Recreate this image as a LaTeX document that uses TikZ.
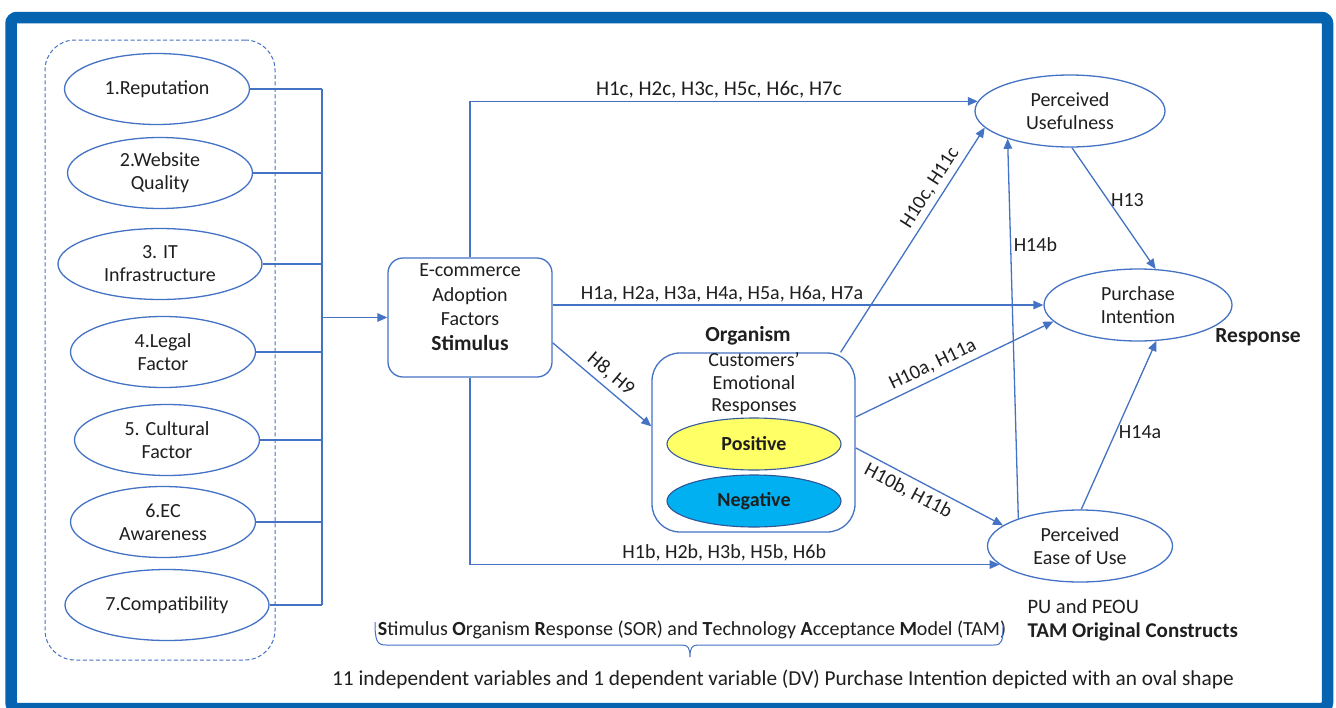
\documentclass[tikz,border=0pt]{standalone}
\usepackage{fontspec}
\setmainfont{Carlito}
\usetikzlibrary{arrows.meta,shapes.geometric,calc}
\definecolor{lineblue}{HTML}{4472C4}
\definecolor{frameblue}{HTML}{0563AF}
\definecolor{posyellow}{HTML}{FFFF66}
\definecolor{negblue}{HTML}{00B0F0}
\definecolor{negedge}{HTML}{2F5597}
\newcommand{\basefont}{\fontsize{20pt}{23pt}\selectfont}
\newcommand{\headfont}{\fontsize{21.5pt}{25pt}\selectfont\bfseries}
\tikzset{
  factor/.style={ellipse, draw=lineblue, line width=1.3pt, inner sep=0pt,
    align=center, minimum width=185pt, minimum height=71pt},
  tamnode/.style={ellipse, draw=lineblue, line width=1.3pt, inner sep=0pt,
    align=center, minimum height=72pt},
  emotion/.style={ellipse, line width=1.1pt, inner sep=0pt,
    minimum width=174pt, minimum height=52pt, font=\basefont\bfseries},
  roundbox/.style={draw=lineblue, line width=1.3pt},
  link/.style={draw=lineblue, line width=1.3pt},
  arr/.style={draw=lineblue, line width=1.3pt, -{Triangle[length=10pt,width=8.5pt]}},
  hyp/.style={inner sep=2.5pt, text=black!88},
  slopedhyp/.style={inner sep=5pt, text=black!88, sloped},
  dashbox/.style={draw=lineblue, line width=1pt, dash pattern=on 4pt off 2.5pt,
    rounded corners=30pt}
}
\begin{document}
\begin{tikzpicture}[x=1pt, y=-1pt, every node/.append style={font=\basefont, text=black!88}]
\useasboundingbox (0,0) rectangle (1336,707);
% outer frame
\fill[white] (0,0) rectangle (1336,707);
\draw[frameblue, line width=11.5pt, rounded corners=6pt] (11,17.5) rectangle (1327.5,708.5);

% group of adoption factors
\node[dashbox, minimum width=230pt, minimum height=620pt] (group) at (160,350) {};
\node[factor] (f1) at (157,89) {1.Reputation};
\node[factor] (f2) at (160,173) {2.Website\\Quality};
\node[factor, minimum width=204pt] (f3) at (160,264) {3. IT\\Infrastructure};
\node[factor] (f4) at (163,352) {4.Legal\\Factor};
\node[factor] (f5) at (167,440) {5. Cultural\\Factor};
\node[factor] (f6) at (163,522) {6.EC\\Awareness};
\node[factor, minimum width=204pt] (f7) at (167,605) {7.Compatibility};

% collecting trunk
\coordinate (trunkTop) at (322,89);
\coordinate (trunkBot) at (322,605);
\draw[link] (trunkTop) -- (trunkBot);
\foreach \f in {f1,f2,f3,f4,f5,f6,f7}
  \draw[link] (\f.east) -- (\f.east -| trunkTop);

% stimulus
\node[roundbox, rounded corners=15pt, minimum width=164pt, minimum height=119pt] (stim) at (470,317.5) {};
\node[align=center, font=\fontsize{20pt}{24.5pt}\selectfont] (stimtxt) at (470,307) {E-commerce\\Adoption\\Factors\\{\headfont Stimulus}};
\draw[arr] (stim.west -| trunkTop) -- (stim.west);

% organism
\node[roundbox, rounded corners=28pt, minimum width=203pt, minimum height=179pt] (org) at (753.5,442.5) {};
\node[font=\headfont] (orgtitle) at (748,336) {Organism};
\node[align=center, font=\fontsize{20pt}{22.5pt}\selectfont] (orgtxt) at (754,384) {Customers’\\Emotional\\Responses};
\node[emotion, draw=lineblue!80!black, fill=posyellow] (pos) at (754,444) {Positive};
\node[emotion, draw=negedge, fill=negblue] (neg) at (754,501) {Negative};

% TAM constructs
\node[tamnode, minimum width=190pt] (pu) at (1070,111) {Perceived\\Usefulness};
\node[tamnode, minimum width=188pt] (pi) at (1138,305) {Purchase\\Intention};
\node[tamnode, minimum width=185pt] (peou) at (1080,546) {Perceived\\Ease of Use};
\node[font=\headfont] (resp) at (1258,337) {Response};
\node[anchor=west, font=\fontsize{20.5pt}{23pt}\selectfont] (pupeou) at (1024,606) {PU and PEOU};
\node[anchor=west, font=\fontsize{21pt}{23pt}\selectfont\bfseries] (tamorig) at (1024,632) {TAM Original Constructs};

% hypotheses
\draw[arr] (stim.north) |- (pu.174)
  node[hyp, pos=0.745, above, font=\fontsize{21pt}{23pt}\selectfont] (hc) {H1c, H2c, H3c, H5c, H6c, H7c};
\draw[arr] (stim.east |- pi.west) -- (pi.west)
  node[hyp, pos=0.345, above] (ha) {H1a, H2a, H3a, H4a, H5a, H6a, H7a};
\draw[arr] (stim.south) |- (peou.193.5)
  node[hyp, pos=0.74, above] (hb) {H1b, H2b, H3b, H5b, H6b};
\draw[arr] (stim.-17.3) -- (org.171.3)
  node[slopedhyp, pos=0.5, above] (h89) {H8, H9};
\draw[arr] (org.46) -- (pu.191)
  node[slopedhyp, pos=0.7, above] (h10c) {H10c, H11c};
\draw[arr] (org.14.6) -- (pi.191)
  node[slopedhyp, pos=0.42, above] (h10a) {H10a, H11a};
\draw[arr] (org.-3.7) -- (peou.165)
  node[slopedhyp, pos=0.4, below] (h10b) {H10b, H11b};
\draw[arr] (peou.156) -- (pu.204)
  node[hyp, pos=0.72, right] (h14b) {H14b};
\draw[arr] (pu.-87) -- (pi.64)
  node[hyp, pos=0.43, right] (h13) {H13};
\draw[arr] (peou.88) -- (pi.-63)
  node[hyp, pos=0.46, right] (h14a) {H14a};

% model caption with brace
\node (sor) at (692,630) {\textbf{S}timulus \textbf{O}rganism \textbf{R}esponse (SOR) and \textbf{T}echnology \textbf{A}cceptance \textbf{M}odel (TAM)};
\draw[lineblue, line width=1pt]
  (375,622) .. controls (375,641) and (377,645) .. (386,645) -- (682,645)
  .. controls (688,645) and (690,648) .. (690,657)
  .. controls (690,648) and (692,645) .. (698,645) -- (994,645)
  .. controls (1002,645) and (1003,641) .. (1003,625);
\node[font=\fontsize{21.3pt}{24pt}\selectfont] (summary) at (783,679) {11 independent variables and 1 dependent variable (DV) Purchase Intention depicted with an oval shape};
\end{tikzpicture}
\end{document}
